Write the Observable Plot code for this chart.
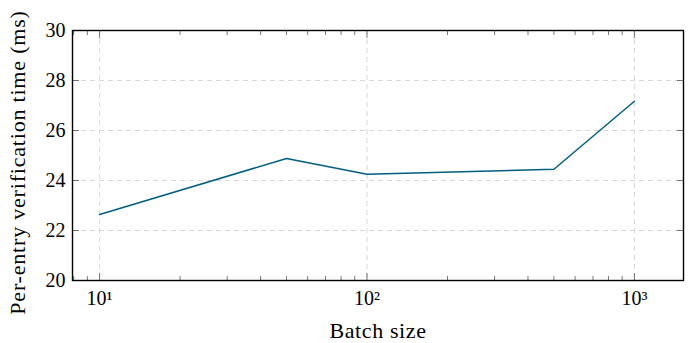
<!DOCTYPE html>
<html>
<head>
<meta charset="utf-8">
<script src="https://cdn.jsdelivr.net/npm/d3@7"></script>
<script src="https://cdn.jsdelivr.net/npm/@observablehq/plot@0.6"></script>
<style>
  html, body { margin: 0; padding: 0; background: white; }
  g[aria-label="x-axis label"] text { font-size: 22px; letter-spacing: 0.6px; }
  g[aria-label="text"] text { letter-spacing: 0.8px; }
</style>
</head>
<body>
<div id="chart"></div>
<script>
const batchSizes = [10, 50, 100, 500, 1000];
const verifyTimes = [22.64, 24.88, 24.25, 24.45, 27.17];
const yTicks = [20, 22, 24, 26, 28, 30];
const xMajorTicks = [10, 100, 1000];
const xMinorTicks = [8, 9, 20, 30, 40, 50, 60, 70, 80, 90, 200, 300, 400, 500, 600, 700, 800, 900];
const xTickLabels = ["10¹", "10²", "10³"];
const xLabel = "Batch size";
const yLabel = "Per-entry verification time (ms)";

const data = batchSizes.map((b, i) => ({batch: b, time: verifyTimes[i]}));
const gridStyle = {stroke: "#d4d4d4", strokeOpacity: 1, strokeWidth: 0.9, strokeDasharray: "5,4"};
const tickStyle = {stroke: "#555", strokeWidth: 0.8};
const noText = () => "";

const chart = Plot.plot({
  width: 690,
  height: 343,
  marginLeft: 72,
  marginRight: 7,
  marginTop: 30,
  marginBottom: 63,
  style: {fontFamily: "'Liberation Serif', serif", fontSize: "20px", background: "white", color: "black"},
  x: {type: "log", domain: [7.92, 1526]},
  y: {domain: [20, 30]},
  marks: [
    Plot.gridY(yTicks, gridStyle),
    Plot.gridX(xMajorTicks, gridStyle),
    Plot.axisX(xMajorTicks, {anchor: "bottom", tickSize: -7, tickFormat: noText, label: null, ...tickStyle}),
    Plot.axisX(xMajorTicks, {anchor: "top", tickSize: -7, tickFormat: noText, label: null, ...tickStyle}),
    Plot.axisX(xMinorTicks, {anchor: "bottom", tickSize: -4, tickFormat: noText, label: null, ...tickStyle}),
    Plot.axisX(xMinorTicks, {anchor: "top", tickSize: -4, tickFormat: noText, label: null, ...tickStyle}),
    Plot.axisY(yTicks, {anchor: "left", tickSize: -7, tickFormat: noText, label: null, ...tickStyle}),
    Plot.axisY(yTicks, {anchor: "right", tickSize: -7, tickFormat: noText, label: null, ...tickStyle}),
    Plot.axisX(xMajorTicks, {
      anchor: "bottom", tickSize: 0, tickPadding: 10,
      tickFormat: (d) => xTickLabels[xMajorTicks.indexOf(d)],
      label: xLabel, labelAnchor: "center", labelOffset: 57, labelArrow: "none"
    }),
    Plot.axisY(yTicks, {
      anchor: "left", tickSize: 0, tickPadding: 7, label: null
    }),
    Plot.text([yLabel], {
      text: (d) => d, frameAnchor: "left", textAnchor: "middle", lineAnchor: "middle", rotate: -90,
      dx: -55, dy: 7, fontSize: 22, fill: "black"
    }),
    Plot.frame({stroke: "black", strokeWidth: 1.4}),
    Plot.line(data, {x: "batch", y: "time", stroke: "#005f80", strokeWidth: 1.5})
  ]
});
document.getElementById("chart").appendChild(chart);
</script>
</body>
</html>
